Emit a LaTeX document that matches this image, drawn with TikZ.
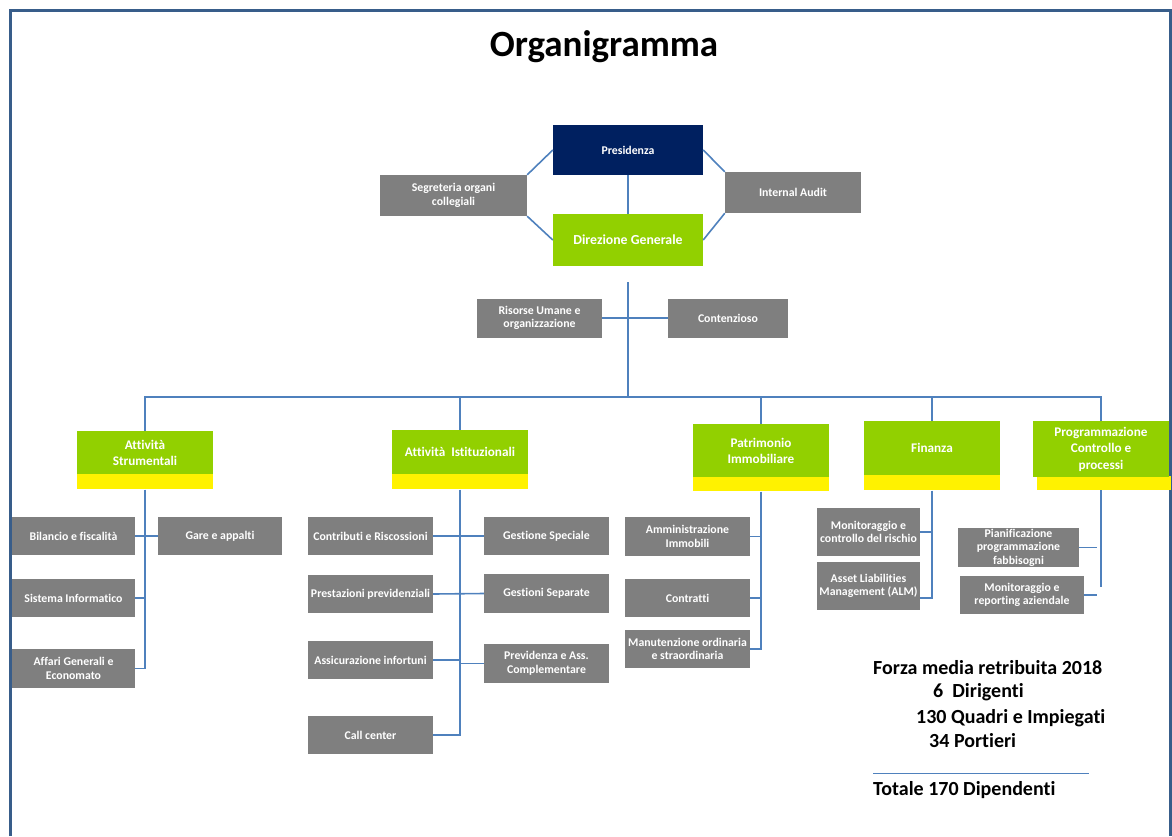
\documentclass[tikz,border=0pt]{standalone}
\usepackage{fontspec}
\setmainfont{Carlito}[Ligatures=NoCommon]
\usetikzlibrary{positioning}

\definecolor{navy}{RGB}{0,32,96}
\definecolor{leaf}{RGB}{146,208,0}
\definecolor{slate}{RGB}{127,127,127}
\definecolor{wire}{RGB}{79,129,189}
\definecolor{frameblue}{RGB}{56,93,138}

\begin{document}
\begin{tikzpicture}[x=1pt,y=-1pt,
    unit/.style={fill=slate,text=white,inner sep=0pt,align=center,
      font=\bfseries\fontsize{11.8}{13.5}\selectfont},
    head/.style={fill=leaf,text=white,inner sep=0pt,align=center,minimum width=136,
      font=\bfseries\fontsize{13.2}{16}\selectfont},
    strip/.style={fill=yellow,inner sep=0pt,minimum width=136},
    link/.style={draw=wire,line width=1.6}]
    \useasboundingbox (0,0) rectangle (1172,836);
    \draw[frameblue,line width=3] (10,836) -- (10,10) -- (1170,10) -- (1170,836);

    \node[font=\bfseries\fontsize{37}{42}\selectfont] (title) at (604,47) {Organigramma};

    % vertice
    \node[unit,fill=navy,minimum width=150,minimum height=50] (pres) at (628,150) {Presidenza};
    \node[unit,fill=leaf,minimum width=150,minimum height=52,
      font=\bfseries\fontsize{13.8}{15}\selectfont] (dg) at (628,240) {Direzione Generale};
    \node[unit,minimum width=147,minimum height=41] (segr) at (453.5,195.5) {Segreteria organi\\collegiali};
    \node[unit,minimum width=136,minimum height=41] (audit) at (793,192.5) {Internal Audit};
    \draw[link] (pres.west) -- (segr.north east) (segr.south east) -- (dg.west);
    \draw[link] (pres.east) -- (audit.north west) (audit.south west) -- (dg.east);
    \draw[link] (pres.south) -- (dg.north);

    % staff
    \coordinate (top) at (628,282);
    \coordinate (bus) at (628,397);
    \node[unit,minimum width=125,minimum height=39] (hr) at (539.5,318) {Risorse Umane e\\organizzazione};
    \node[unit,minimum width=120,minimum height=39] (legal) at (728,318) {Contenzioso};
    \draw[link] (top) -- (bus);
    \draw[link] (hr.east) -- (hr.east -| bus) -- (legal.west);

    % aree
    \node[head,minimum height=43] (strum) at (145,452.5) {Attività\\Strumentali};
    \node[strip,minimum height=15,below=0pt of strum] (strumY) {};
    \node[head,minimum height=44] (istit) at (460,452) {Attività~ Istituzionali};
    \node[strip,minimum height=15,below=0pt of istit] (istitY) {};
    \node[head,minimum height=53] (patr) at (761,450.5) {Patrimonio\\Immobiliare};
    \node[strip,minimum height=14,below=0pt of patr] (patrY) {};
    \node[head,minimum height=54] (fin) at (932,448) {Finanza};
    \node[strip,minimum height=15,below=0pt of fin] (finY) {};
    \node[strip,minimum width=134,minimum height=14] (progY) at (1104,483) {};
    \node[head,minimum height=56,font=\bfseries\fontsize{13.2}{16.5}\selectfont] (prog) at (1101,449)
      {Programmazione\\Controllo e\\processi};
    \foreach \h in {strum,istit,patr,fin,prog}
      \draw[link] (bus) -| (\h.north);

    % attivita strumentali
    \node[unit,minimum width=123,minimum height=38] (bil) at (73.5,536) {Bilancio e fiscalità};
    \node[unit,minimum width=124,minimum height=38] (gare) at (220,536) {Gare e appalti};
    \node[unit,minimum width=123,minimum height=38] (sist) at (73.5,598) {Sistema Informatico};
    \node[unit,minimum width=123,minimum height=39] (affari) at (73.5,668.5) {Affari Generali e\\Economato};
    \draw[link] (strumY.south) |- (affari.east);
    \draw[link] (bil.east) -- (gare.west);
    \draw[link] (sist.east) -- (sist.east -| strumY);

    % attivita istituzionali
    \node[unit,minimum width=125,minimum height=38] (contr) at (370.5,536) {Contributi e Riscossioni};
    \node[unit,minimum width=125,minimum height=38] (gspec) at (546.5,536) {Gestione Speciale};
    \node[unit,minimum width=125,minimum height=38] (prest) at (370.5,594) {Prestazioni previdenziali};
    \node[unit,minimum width=125,minimum height=39] (gsep) at (546.5,593.5) {Gestioni Separate};
    \node[unit,minimum width=125,minimum height=38] (assic) at (370.5,660) {Assicurazione infortuni};
    \node[unit,minimum width=125,minimum height=39] (prev) at (546.5,663.5) {Previdenza e Ass.\\Complementare};
    \node[unit,minimum width=125,minimum height=38] (call) at (370.5,735) {Call center};
    \draw[link] (istitY.south) |- (call.east);
    \draw[link] (contr.east) -- (gspec.west);
    \draw[link] (prest.east) -- (gsep.west);
    \draw[link] (assic.east) -- (assic.east -| istitY) |- (prev.west);

    % patrimonio immobiliare
    \node[unit,minimum width=125,minimum height=39] (amm) at (687.5,536.5) {Amministrazione\\Immobili};
    \node[unit,minimum width=125,minimum height=38] (contratti) at (687.5,598) {Contratti};
    \node[unit,minimum width=125,minimum height=38] (manut) at (687.5,649) {Manutenzione ordinaria\\e straordinaria};
    \draw[link] (patrY.south) |- (manut.east);
    \draw[link] (amm.east) -- (amm.east -| patrY);
    \draw[link] (contratti.east) -- (contratti.east -| patrY);

    % finanza
    \node[unit,minimum width=103,minimum height=48] (rischio) at (868.5,532) {Monitoraggio e\\controllo del rischio};
    \node[unit,minimum width=103,minimum height=48] (alm) at (868.5,586) {Asset Liabilities\\Management (ALM)};
    \draw[link] (finY.south) |- ([yshift=-12pt]alm.east);
    \draw[link] (rischio.east) -- (rischio.east -| finY);

    % programmazione
    \node[unit,minimum width=121,minimum height=39,font=\bfseries\fontsize{11.8}{13.5}\selectfont]
      (pian) at (1018.5,547.5) {Pianificazione\\programmazione\\fabbisogni};
    \node[unit,minimum width=124,minimum height=38] (report) at (1022,595) {Monitoraggio e\\reporting aziendale};
    \draw[link] (prog.south |- progY.south) -- ++(0,97);
    \draw[link] (pian.east) -- ++(18,0);
    \draw[link] (report.east) -- ++(13,0);

    % organico
    \begin{scope}[font=\bfseries\fontsize{20}{24}\selectfont]
      \node[anchor=base west,inner sep=0pt] (forza) at (873,674) {Forza media retribuita 2018};
      \node[anchor=base west,inner sep=0pt] (dir) at (933,697) {6~ Dirigenti};
      \node[anchor=base west,inner sep=0pt] (quadri) at (916,723) {130 Quadri e Impiegati};
      \node[anchor=base west,inner sep=0pt] (port) at (929,747) {34 Portieri};
      \node[anchor=base west,inner sep=0pt] (tot) at (873,795) {Totale 170 Dipendenti};
    \end{scope}
    \draw[wire,line width=0.8] (873,773) -- (1089,773);
\end{tikzpicture}
\end{document}
